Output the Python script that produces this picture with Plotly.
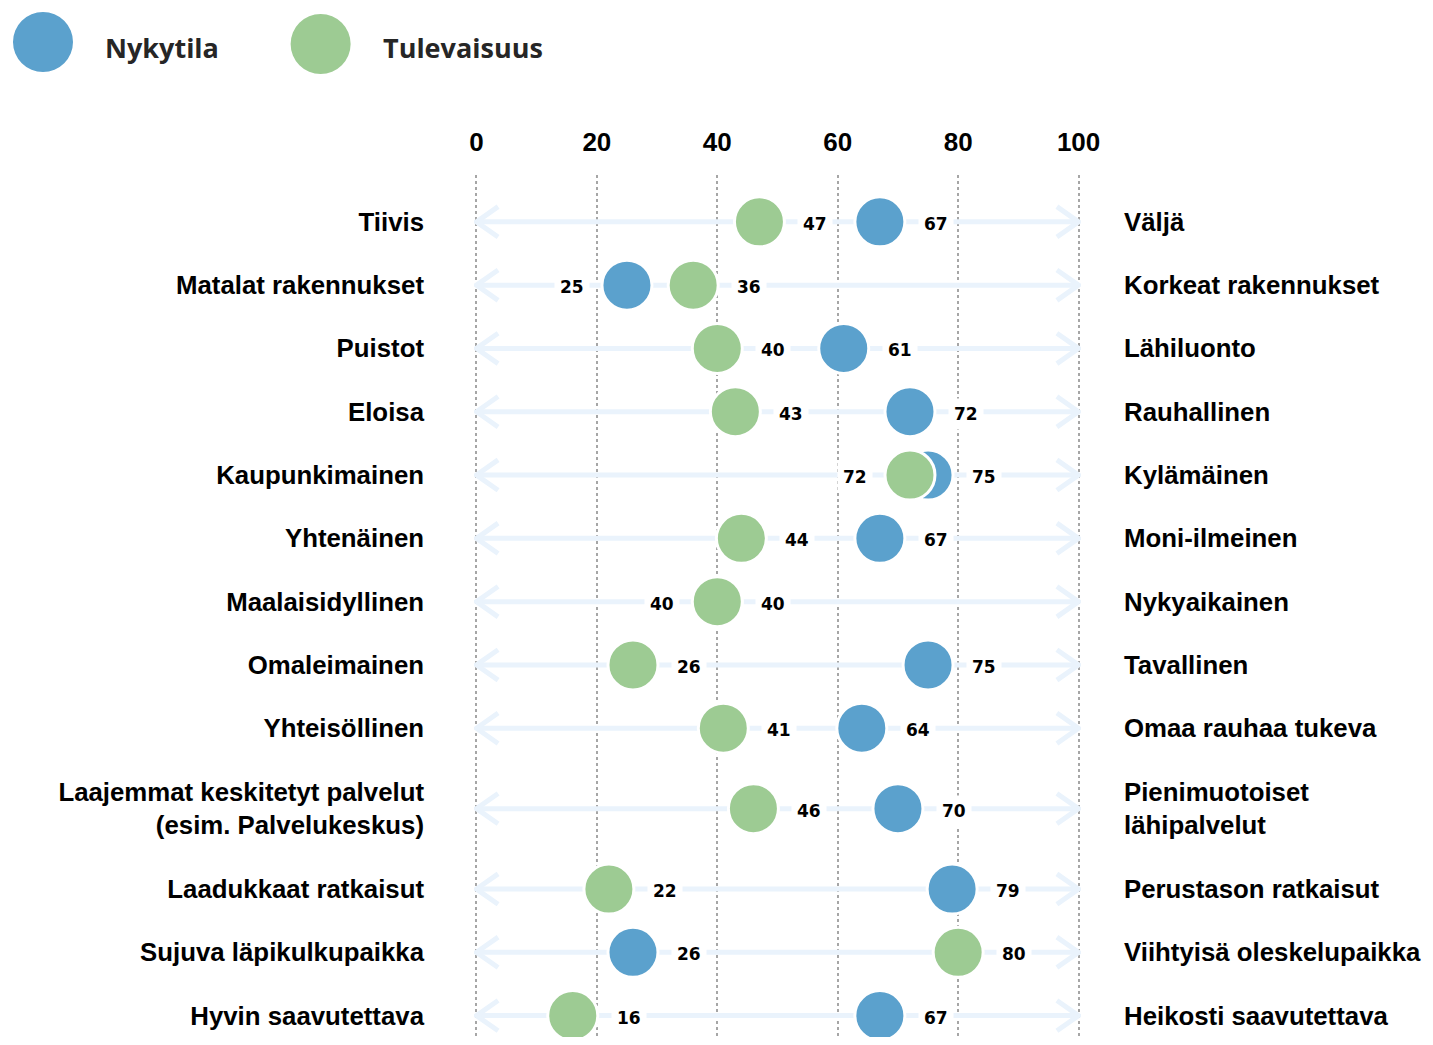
import plotly.graph_objects as go

# ---------------- data ----------------
left_labels = [
    "Tiivis", "Matalat rakennukset", "Puistot", "Eloisa", "Kaupunkimainen",
    "Yhtenäinen", "Maalaisidyllinen", "Omaleimainen", "Yhteisöllinen",
    "Laajemmat keskitetyt palvelut<br>(esim. Palvelukeskus)",
    "Laadukkaat ratkaisut", "Sujuva läpikulkupaikka", "Hyvin saavutettava",
]
right_labels = [
    "Väljä", "Korkeat rakennukset", "Lähiluonto", "Rauhallinen", "Kylämäinen",
    "Moni-ilmeinen", "Nykyaikainen", "Tavallinen", "Omaa rauhaa tukeva",
    "Pienimuotoiset<br>lähipalvelut",
    "Perustason ratkaisut", "Viihtyisä oleskelupaikka", "Heikosti saavutettava",
]
nykytila = [67, 25, 61, 72, 75, 67, 40, 75, 64, 70, 79, 26, 67]
tulevaisuus = [47, 36, 40, 43, 72, 44, 40, 26, 41, 46, 22, 80, 16]
tick_vals = [0, 20, 40, 60, 80, 100]
tick_text = ["0", "20", "40", "60", "80", "100"]
series_names = ["Nykytila", "Tulevaisuus"]

# ---------------- style / layout ----------------
BLUE = "#5BA1CD"
GREEN = "#9DCB93"
ARROW = "#EAF3FC"
OFF = 8                      # page body margin
W, H = 1433 - 2 * OFF, 1045 - 2 * OFF
X0_PX, X100_PX = 476 - OFF, 1079 - OFF     # where 0 and 100 fall
UNIT = (X100_PX - X0_PX) / 100.0
PAD = 0.4                                   # small range padding so edge gridlines show
X_MIN, X_MAX = -PAD, 100 + PAD
ML = X0_PX - PAD * UNIT
MR = W - (X100_PX + PAD * UNIT)
MT, MB = 175 - OFF, 0
PW, PH = W - ML - MR, H - MT - MB
ROW_PX = 63.3

# labels that sit to the left of their circle: (row, series index)
left_side = {(1, 0), (4, 1), (6, 1)}

n = len(left_labels)
two_line_row = 9
EXTRA = 0.27
ypos = [i + (EXTRA if i >= two_line_row else 0) + (EXTRA if i > two_line_row else 0)
        for i in range(n)]
Y_TOP = -0.74
Y_BOT = Y_TOP + PH / ROW_PX


def px_x(p):
    return (p - OFF - ML) / PW


def px_y(p):
    return (H - MB - (p - OFF)) / PH


fig = go.Figure()

# arrow lines with open chevron heads
lx, ly = [], []
cx, cy = [], []
CW, CH = 3.6, 0.24
for y in ypos:
    lx += [0, 100, None]
    ly += [y, y, None]
    cx += [CW, 0, CW, None, 100 - CW, 100, 100 - CW, None]
    cy += [y - CH, y, y + CH, None, y - CH, y, y + CH, None]
fig.add_trace(go.Scatter(x=lx, y=ly, mode="lines", line=dict(color=ARROW, width=5),
                         hoverinfo="skip", showlegend=False, cliponaxis=False))
fig.add_trace(go.Scatter(x=cx, y=cy, mode="lines", line=dict(color=ARROW, width=5),
                         hoverinfo="skip", showlegend=False, cliponaxis=False))

# circles
for vals, color, name in [(nykytila, BLUE, series_names[0]), (tulevaisuus, GREEN, series_names[1])]:
    fig.add_trace(go.Scatter(
        x=vals, y=ypos, mode="markers", name=name, showlegend=False,
        marker=dict(size=50, color=color, line=dict(color="white", width=3)),
        cliponaxis=False,
    ))

# invisible trace for right axis
fig.add_trace(go.Scatter(x=[50] * n, y=ypos, yaxis="y2", mode="markers",
                         marker=dict(opacity=0), hoverinfo="skip", showlegend=False))

annotations = []
for s, vals in enumerate([nykytila, tulevaisuus]):
    for i, v in enumerate(vals):
        left = (i, s) in left_side
        annotations.append(dict(
            x=v, y=ypos[i], xref="x", yref="y", text=str(v), showarrow=False,
            xshift=-55 if left else 56, yshift=-2,
            font=dict(family="DejaVu Sans", size=17, color="black", weight="bold"),
            bgcolor="white", borderpad=5,
        ))

# legend
shapes = []
for name, color, cxp, cyp, tx in [(series_names[0], BLUE, 42, 42, 102),
                                  (series_names[1], GREEN, 320, 44, 380)]:
    shapes.append(dict(type="circle", xref="paper", yref="paper",
                       xsizemode="pixel", ysizemode="pixel",
                       xanchor=px_x(cxp), yanchor=px_y(cyp),
                       x0=-30, x1=30, y0=-30, y1=30,
                       fillcolor=color, line=dict(width=0)))
    annotations.append(dict(x=px_x(tx), y=px_y(47), xref="paper", yref="paper",
                            xanchor="left", yanchor="middle", showarrow=False,
                            text=name,
                            font=dict(family="Open Sans", size=27, color="#262626",
                                      weight="bold")))

label_font = dict(family="Liberation Sans, Arial, sans-serif", size=25.8, color="black",
                  weight="bold")

fig.update_layout(
    width=W, height=H,
    margin=dict(l=ML, r=MR, t=MT, b=MB, pad=0),
    plot_bgcolor="white", paper_bgcolor="white",
    showlegend=False,
    xaxis=dict(range=[X_MIN, X_MAX], side="top", tickvals=tick_vals, ticktext=tick_text,
               showgrid=True, griddash="dot", gridcolor="#A6A6A6", gridwidth=2,
               zeroline=False, showline=False, ticks="",
               ticklabelstandoff=18,
               tickfont=dict(family="Liberation Sans, Arial, sans-serif",
                             size=26, color="black", weight="bold")),
    yaxis=dict(range=[Y_BOT, Y_TOP], tickvals=ypos, ticktext=left_labels,
               showgrid=False, zeroline=False, showline=False, ticks="",
               ticklabelstandoff=round(51 - PAD * UNIT), tickfont=label_font),
    yaxis2=dict(range=[Y_BOT, Y_TOP], overlaying="y", side="right",
                tickvals=ypos, ticktext=right_labels,
                showgrid=False, zeroline=False, showline=False, ticks="",
                ticklabelstandoff=round(44 - PAD * UNIT), tickfont=label_font),
    annotations=annotations,
    shapes=shapes,
)

fig.write_html("out.html")
